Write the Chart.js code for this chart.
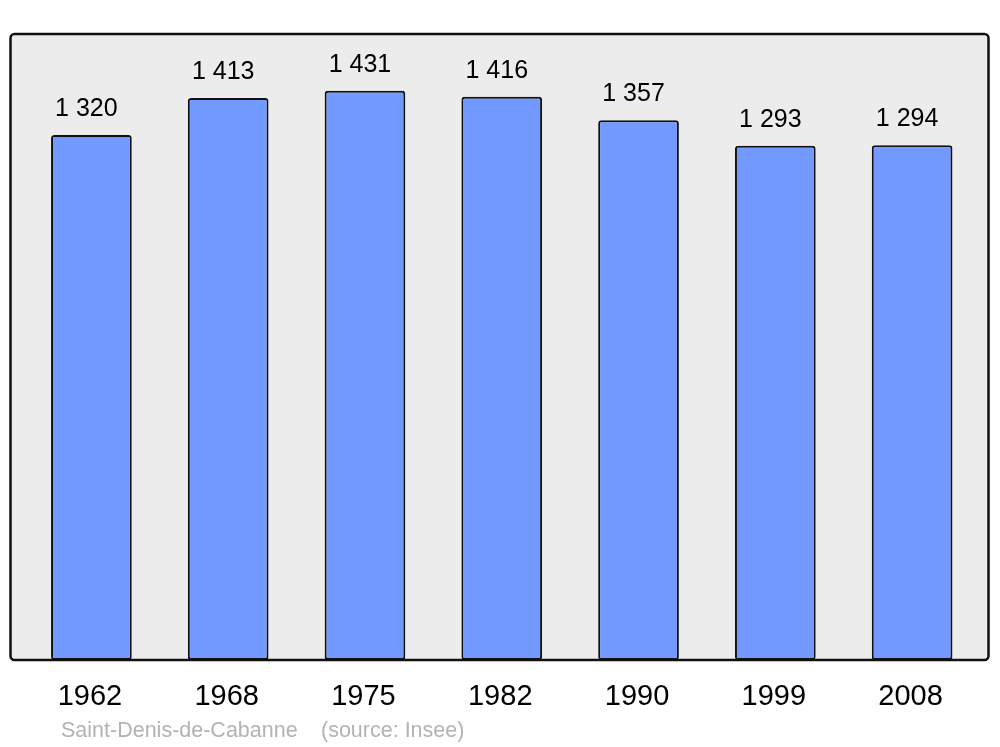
<!DOCTYPE html>
<html>
<head>
<meta charset="utf-8">
<script src="https://cdn.jsdelivr.net/npm/chart.js@4/dist/chart.umd.min.js"></script>
<style>
html,body{margin:0;padding:0;background:#fff;}
#wrap{width:1000px;height:747px;position:relative;}
</style>
</head>
<body>
<div id="wrap"><canvas id="c" width="1000" height="747"></canvas></div>
<script>
const years = ["1962","1968","1975","1982","1990","1999","2008"];
const population = [1320,1413,1431,1416,1357,1293,1294];
const footerName = "Saint-Denis-de-Cabanne";
const footerSource = "(source: Insee)";

function fmt(v){ return String(v).replace(/\B(?=(\d{3})+(?!\d))/g, " "); }

function roundRect(ctx,x,y,w,h,r){
  ctx.beginPath();
  ctx.moveTo(x+r,y);
  ctx.lineTo(x+w-r,y);
  ctx.arcTo(x+w,y,x+w,y+r,r);
  ctx.lineTo(x+w,y+h-r);
  ctx.arcTo(x+w,y+h,x+w-r,y+h,r);
  ctx.lineTo(x+r,y+h);
  ctx.arcTo(x,y+h,x,y+h-r,r);
  ctx.lineTo(x,y+r);
  ctx.arcTo(x,y,x+r,y,r);
  ctx.closePath();
}

const decor = {
  id:'decor',
  beforeDatasetsDraw(chart){
    const {ctx, chartArea:a} = chart;
    ctx.save();
    roundRect(ctx, a.left-12.5, a.top, (a.right+8)-(a.left-12.5), a.bottom-a.top, 4);
    ctx.fillStyle = '#ececec';
    ctx.fill();
    ctx.restore();
  },
  afterDatasetsDraw(chart){
    const {ctx, chartArea:a, scales} = chart;
    ctx.save();
    roundRect(ctx, a.left-12.5, a.top, (a.right+8)-(a.left-12.5), a.bottom-a.top, 4);
    ctx.lineWidth = 2.5;
    ctx.strokeStyle = '#111';
    ctx.stroke();
    const meta = chart.getDatasetMeta(0);
    ctx.fillStyle = '#000';
    ctx.textAlign = 'center';
    ctx.textBaseline = 'alphabetic';
    ctx.font = '25px "Liberation Sans", Arial, sans-serif';
    meta.data.forEach((bar,i)=>{
      ctx.fillText(fmt(population[i]), bar.x-5, bar.y-19);
    });
    ctx.font = '29px "Liberation Sans", Arial, sans-serif';
    years.forEach((y,i)=>{
      const x = scales.x.getPixelForValue(i);
      ctx.fillText(y, x-1.5, a.bottom+45);
    });
    ctx.font = '21.5px "Liberation Sans", Arial, sans-serif';
    ctx.fillStyle = '#b3b3b3';
    ctx.textAlign = 'left';
    ctx.fillText(footerName, 61, a.bottom+77);
    ctx.fillText(footerSource, 321, a.bottom+77);
    ctx.restore();
  }
};

new Chart(document.getElementById('c'), {
  type:'bar',
  data:{
    labels: years,
    datasets:[{
      data: population,
      backgroundColor:'#7299ff',
      borderColor:'#111',
      borderWidth:2,
      borderSkipped:false,
      borderRadius:3,
      barPercentage:0.59,
      categoryPercentage:1
    }]
  },
  options:{
    responsive:false,
    animation:false,
    devicePixelRatio:1,
    layout:{padding:{left:23,right:19.5,top:34,bottom:87}},
    plugins:{legend:{display:false},tooltip:{enabled:false},title:{display:false}},
    scales:{
      x:{display:false},
      y:{display:false,min:0,max:1574}
    }
  },
  plugins:[decor]
});
</script>
</body>
</html>
